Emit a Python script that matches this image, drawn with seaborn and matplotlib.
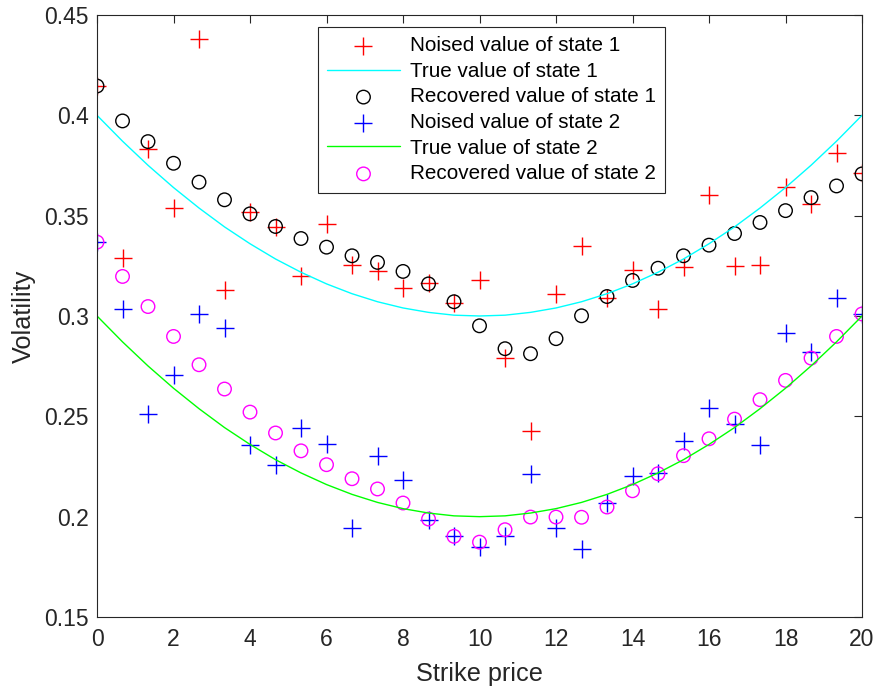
import matplotlib
matplotlib.use("Agg")
import matplotlib.pyplot as plt
import seaborn as sns
import pandas as pd

# ---- data ----
strike = [0, 0.667, 1.333, 2, 2.667, 3.333, 4, 4.667, 5.333, 6, 6.667, 7.333, 8, 8.667,
          9.333, 10, 10.667, 11.333, 12, 12.667, 13.333, 14, 14.667, 15.333, 16, 16.667,
          17.333, 18, 18.667, 19.333, 20]

noised_1 = [0.4146, 0.3290, 0.3834, 0.3537, 0.4380, 0.3130, 0.3520, 0.3443, 0.3197, 0.3458,
            0.3255, 0.3222, 0.3139, 0.3164, 0.3064, 0.3177, 0.2790, 0.2425, 0.3109, 0.3350,
            0.3089, 0.3230, 0.3036, 0.3243, 0.3604, 0.3247, 0.3255, 0.3642, 0.3559, 0.3814,
            0.3712]
true_1 = [0.4000, 0.3871, 0.3751, 0.3640, 0.3538, 0.3444, 0.3360, 0.3284, 0.3218, 0.3160,
          0.3111, 0.3071, 0.3040, 0.3018, 0.3004, 0.3000, 0.3004, 0.3018, 0.3040, 0.3071,
          0.3111, 0.3160, 0.3218, 0.3284, 0.3360, 0.3444, 0.3538, 0.3640, 0.3751, 0.3871,
          0.4000]
recovered_1 = [0.4146, 0.3972, 0.3869, 0.3761, 0.3667, 0.3579, 0.3509, 0.3446, 0.3386, 0.3343,
               0.3300, 0.3267, 0.3222, 0.3160, 0.3071, 0.2951, 0.2837, 0.2812, 0.2887, 0.3001,
               0.3097, 0.3177, 0.3238, 0.3300, 0.3353, 0.3411, 0.3466, 0.3525, 0.3590, 0.3648,
               0.3708]

noised_2 = [0.3368, 0.3036, 0.2511, 0.2704, 0.3010, 0.2940, 0.2355, 0.2257, 0.2442, 0.2363,
            0.1943, 0.2304, 0.2181, 0.1981, 0.1902, 0.1847, 0.1902, 0.2214, 0.1943, 0.1841,
            0.2070, 0.2204, 0.2217, 0.2378, 0.2541, 0.2461, 0.2355, 0.2915, 0.2820, 0.3089,
            0.3010]
true_2 = [0.3000, 0.2871, 0.2751, 0.2640, 0.2538, 0.2444, 0.2360, 0.2284, 0.2218, 0.2160,
          0.2111, 0.2071, 0.2040, 0.2018, 0.2004, 0.2000, 0.2004, 0.2018, 0.2040, 0.2071,
          0.2111, 0.2160, 0.2218, 0.2284, 0.2360, 0.2444, 0.2538, 0.2640, 0.2751, 0.2871,
          0.3000]
recovered_2 = [0.3368, 0.3197, 0.3047, 0.2898, 0.2757, 0.2636, 0.2521, 0.2417, 0.2328, 0.2259,
               0.2189, 0.2138, 0.2068, 0.1988, 0.1902, 0.1873, 0.1935, 0.1998, 0.1998, 0.1997,
               0.2048, 0.2129, 0.2214, 0.2304, 0.2388, 0.2486, 0.2583, 0.2679, 0.2790, 0.2898,
               0.3010]

x_ticks = [0, 2, 4, 6, 8, 10, 12, 14, 16, 18, 20]
y_ticks = [0.15, 0.2, 0.25, 0.3, 0.35, 0.4, 0.45]
y_tick_labels = ["0.15", "0.2", "0.25", "0.3", "0.35", "0.4", "0.45"]

labels = ["Noised value of state 1", "True value of state 1", "Recovered value of state 1",
          "Noised value of state 2", "True value of state 2", "Recovered value of state 2"]

df = pd.DataFrame({"strike": strike, "n1": noised_1, "t1": true_1, "r1": recovered_1,
                   "n2": noised_2, "t2": true_2, "r2": recovered_2})

# ---- style ----
sns.set_theme(style="white")
plt.rcParams["font.family"] = ["Liberation Sans", "DejaVu Sans"]
axis_color = "#262626"

fig = plt.figure(figsize=(8.74, 6.87), dpi=100)
ax = fig.add_axes([0.111, 0.1019, 0.8753, 0.8763])

plus_s = 150
circ_s = 95
mlw = 1.0

sns.scatterplot(data=df, x="strike", y="n1", marker="+", color="#ff0000", s=plus_s,
                linewidth=mlw, label=labels[0], ax=ax)
sns.lineplot(data=df, x="strike", y="t1", color="#00ffff", linewidth=1.0, label=labels[1], ax=ax)
sns.scatterplot(data=df, x="strike", y="r1", marker="o", facecolor="none", edgecolor="#000000",
                s=circ_s, linewidth=mlw, label=labels[2], ax=ax)
sns.scatterplot(data=df, x="strike", y="n2", marker="+", color="#0000ff", s=plus_s,
                linewidth=mlw, label=labels[3], ax=ax)
sns.lineplot(data=df, x="strike", y="t2", color="#00ff00", linewidth=1.0, label=labels[4], ax=ax)
sns.scatterplot(data=df, x="strike", y="r2", marker="o", facecolor="none", edgecolor="#ff00ff",
                s=circ_s, linewidth=mlw, label=labels[5], ax=ax)

ax.set_xlim(0, 20)
ax.set_ylim(0.15, 0.45)
ax.set_xticks(x_ticks)
ax.set_xticklabels([str(v) for v in x_ticks])
ax.set_yticks(y_ticks)
ax.set_yticklabels(y_tick_labels)

ax.tick_params(axis="both", direction="in", length=5.5, width=0.8, colors=axis_color,
               labelsize=16.5, top=True, right=True, labelcolor=axis_color)
ax.tick_params(axis="x", pad=8)
ax.tick_params(axis="y", pad=6)
for sp in ax.spines.values():
    sp.set_visible(True)
    sp.set_color(axis_color)
    sp.set_linewidth(0.8)

ax.set_xlabel("Strike price", fontsize=18.2, color=axis_color, labelpad=8)
ax.set_ylabel("Volatility", fontsize=18.2, color=axis_color, labelpad=6)

handles, lbls = ax.get_legend_handles_labels()
order = [lbls.index(l) for l in labels]
leg = ax.legend([handles[i] for i in order], [lbls[i] for i in order],
                loc="upper left", bbox_to_anchor=(0.289, 0.980), fontsize=14.85,
                frameon=True, fancybox=False, framealpha=1, edgecolor=axis_color,
                handlelength=3.5, handletextpad=0.5, labelspacing=0.32, borderpad=0.45,
                borderaxespad=0)
leg.get_frame().set_linewidth(0.8)
for t in leg.get_texts():
    t.set_color("#000000")

fig.savefig("out.png", dpi=100)
